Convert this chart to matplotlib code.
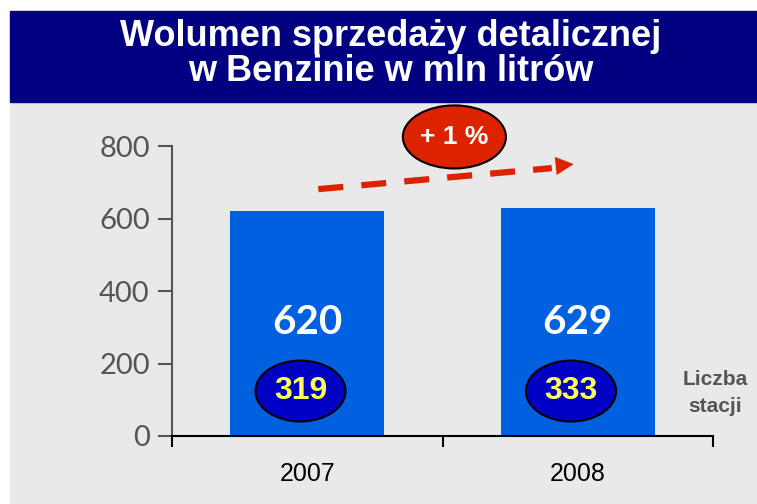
import matplotlib.pyplot as plt
from matplotlib.patches import Rectangle, Ellipse

# data
years = ["2007", "2008"]
volumes = [620, 629]
stations = [319, 333]
change_label = "+ 1 %"
y_ticks = [0, 200, 400, 600, 800]

navy = "#000080"
bg = "#e9e9e9"
bar_blue = "#0061e0"
oval_blue = "#0000c4"
red = "#dd2200"

fig = plt.figure(figsize=(7.57, 5.04), dpi=100)
W, H = 757, 504

# background panels
fig.patches.append(Rectangle((10 / W, 0), 1, 1 - 102 / H, transform=fig.transFigure,
                             color=bg, zorder=-2))
fig.patches.append(Rectangle((10 / W, 1 - 102 / H), 1, 91 / H, transform=fig.transFigure,
                             color=navy, zorder=-2))
fig.text(391 / W, 1 - 54 / H, "Wolumen sprzedaży detalicznej\nw Benzinie w mln litrów",
         ha="center", va="center", color="white", fontsize=26, fontweight="bold",
         family="Liberation Sans", linespacing=0.98)

ax = fig.add_axes([172 / W, 1 - 436 / H, 541 / W, 290 / H])
ax.set_facecolor("none")
ax.set_zorder(2)

x = [0.5, 1.5]
ax.bar(x, volumes, width=0.57, color=bar_blue, zorder=2)
ax.set_xlim(0, 2)
ax.set_ylim(0, 800)

# axes styling
for s in ["top", "right"]:
    ax.spines[s].set_visible(False)
ax.spines["left"].set_color("#555555")
ax.spines["left"].set_linewidth(1.5)
ax.spines["bottom"].set_color("black")
ax.spines["bottom"].set_linewidth(1.5)
ax.set_yticks(y_ticks)
ax.set_yticklabels([str(t) for t in y_ticks], fontsize=21, color="#555555", family="Lato")
ax.tick_params(axis="y", length=10, width=1.5, color="#555555", pad=6)
ax.set_xticks([0, 1, 2])
ax.set_xticklabels([])
ax.tick_params(axis="x", length=8, width=1.5, color="black")

for xi, yr in zip(x, years):
    ax.text(xi, -105, yr, ha="center", va="center", fontsize=18, family="Liberation Sans",
            clip_on=False)

# bar values and station ovals
for xi, v, st in zip(x, volumes, stations):
    ax.text(xi, 312, str(v), ha="center", va="center", color="white", fontsize=29,
            fontweight="bold", family="Lato", zorder=4)
    ax.add_patch(Ellipse((xi - 0.025, 124), 0.333, 168, facecolor=oval_blue,
                         edgecolor="black", lw=1.5, zorder=3))
    ax.text(xi - 0.025, 124, str(st), ha="center", va="center", color="#ffff55",
            fontsize=23, fontweight="bold", family="Liberation Sans", zorder=4)

fig.text(715 / W, 1 - 393 / H, "Liczba\nstacji", ha="center", va="center",
         color="#555555", fontsize=15, fontweight="bold", family="Liberation Sans",
         linespacing=1.5)

# growth arrow
ax.plot([0.541, 1.404], [681, 739], color=red, lw=4.5, ls=(0, (4, 2.9)),
        clip_on=False, zorder=3)
ax.annotate("", xy=(1.485, 750), xytext=(1.419, 745),
            arrowprops=dict(arrowstyle="-|>,head_length=0.65,head_width=0.33",
                            color=red, lw=0, mutation_scale=20, shrinkA=0, shrinkB=0),
            annotation_clip=False, zorder=3)

ax.add_patch(Ellipse((1.044, 825), 0.381, 174, facecolor=red, edgecolor="black",
                     lw=1.5, clip_on=False, zorder=3))
ax.text(1.044, 825, change_label, ha="center", va="center", color="white", fontsize=19,
        fontweight="bold", family="Liberation Sans", clip_on=False, zorder=4)

fig.savefig("out.png", dpi=100)
